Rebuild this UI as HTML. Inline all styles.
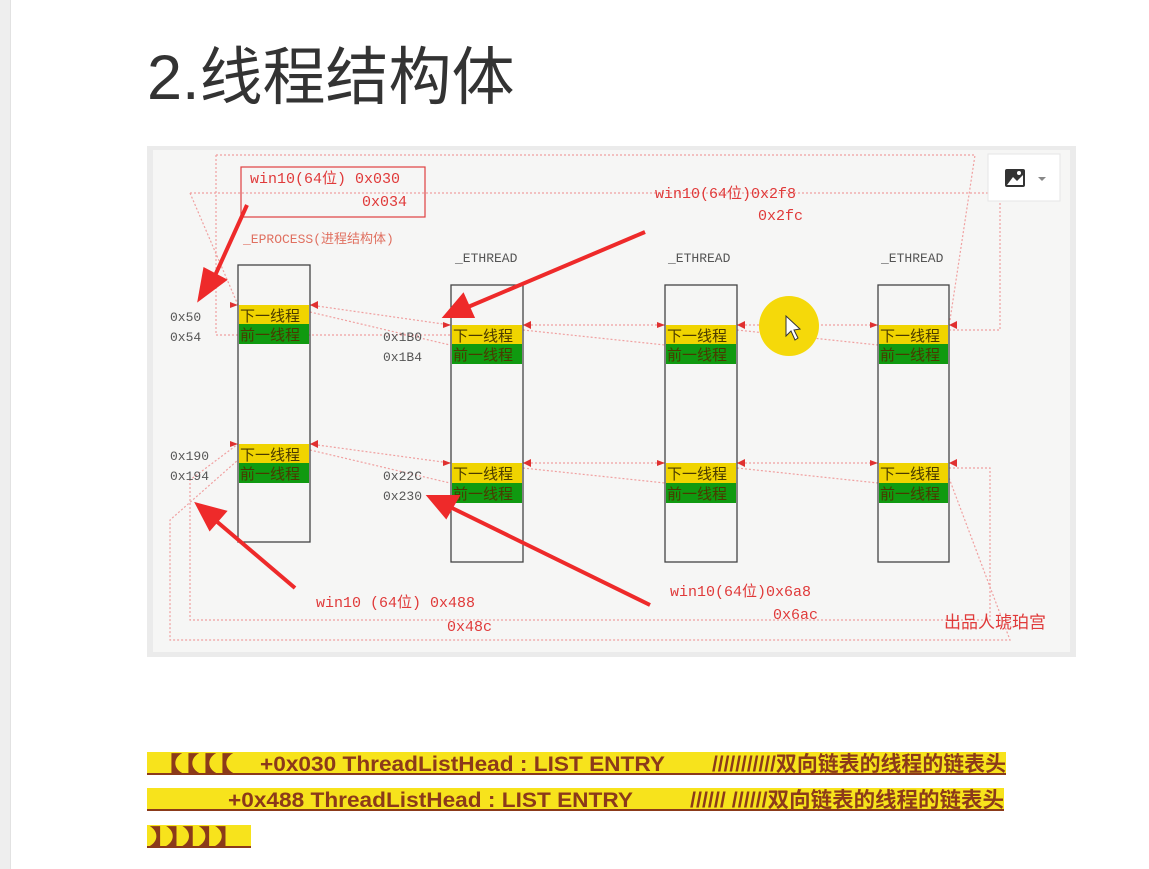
<!DOCTYPE html>
<html><head><meta charset="utf-8"><style>
body{margin:0;width:1149px;height:869px;background:#fff;position:relative;overflow:hidden;font-family:"Liberation Sans","Noto Sans CJK SC",sans-serif}
.strip{position:absolute;left:0;top:0;width:10px;height:869px;background:#eee;border-right:1px solid #e2e2e2}
h1{position:absolute;left:147px;top:38px;margin:0;font-size:63px;font-weight:normal;color:#333;line-height:80px;font-family:"Liberation Sans","Noto Sans CJK SC",sans-serif}
svg text{font-family:"Liberation Mono","Noto Sans CJK SC",monospace}
svg text.b{font-family:"Liberation Sans","Noto Sans CJK SC",sans-serif;font-weight:bold;fill:#8b3a1a;font-size:21px}
</style></head><body>
<div class="strip"></div>
<h1>2.线程结构体</h1>
<svg style="position:absolute;left:0;top:0" width="1149" height="869">
<rect x="147" y="146" width="929" height="511" fill="#ebebeb"/>
<rect x="153" y="150" width="917" height="502" fill="#f6f6f5"/>
<g stroke="#f0a0a0" stroke-width="1.2" stroke-dasharray="2,2" fill="none">
<polyline points="216,155 975,155 950,320"/>
<polyline points="190,193 1000,193 1000,330 950,330"/>
<polyline points="216,155 216,335 450,335"/>
<polyline points="190,193 238,305"/>
<line x1="310" y1="305" x2="450" y2="325"/>
<line x1="310" y1="312" x2="450" y2="345"/>
<line x1="523" y1="325" x2="665" y2="325"/>
<line x1="523" y1="330" x2="665" y2="345"/>
<line x1="737" y1="325" x2="878" y2="325"/>
<line x1="737" y1="330" x2="878" y2="345"/>
<line x1="310" y1="444" x2="450" y2="463"/>
<line x1="310" y1="450" x2="450" y2="483"/>
<line x1="523" y1="463" x2="665" y2="463"/>
<line x1="523" y1="468" x2="665" y2="483"/>
<line x1="737" y1="463" x2="878" y2="463"/>
<line x1="737" y1="468" x2="878" y2="483"/>
<polyline points="949,468 990,468 990,620 190,620 190,480 238,444"/>
<polyline points="949,478 1010,640 170,640 170,520 238,460"/>
</g>
<circle cx="789" cy="326" r="30" fill="#f5d90a"/>
<polygon points="786,316 786,336 791,331 795,340 798,338 794,330 800,329" fill="#fff" stroke="#333" stroke-width="1"/>
<g fill="#e03030">
<polygon points="230,302 238,305 230,308"/><polygon points="443,322 451,325 443,328"/><polygon points="657,322 665,325 657,328"/><polygon points="870,322 878,325 870,328"/>
<polygon points="318,301 310,305 318,309"/><polygon points="531,321 523,325 531,329"/><polygon points="745,321 737,325 745,329"/><polygon points="957,321 949,325 957,329"/>
<polygon points="230,441 238,444 230,447"/><polygon points="443,460 451,463 443,466"/><polygon points="657,460 665,463 657,466"/><polygon points="870,460 878,463 870,466"/>
<polygon points="318,440 310,444 318,448"/><polygon points="531,459 523,463 531,467"/><polygon points="745,459 737,463 745,467"/><polygon points="957,459 949,463 957,467"/>
</g>
<g stroke="#444" stroke-width="1.3" fill="none">
<rect x="238" y="265" width="72" height="277"/><rect x="451" y="285" width="72" height="277"/><rect x="665" y="285" width="72" height="277"/><rect x="878" y="285" width="71" height="277"/>
</g>
<g font-size="15" fill="#4a3a00">
<rect x="239" y="305" width="70" height="19" fill="#f0d400"/><rect x="239" y="324" width="70" height="20" fill="#109a10"/>
<rect x="239" y="444" width="70" height="19" fill="#f0d400"/><rect x="239" y="463" width="70" height="20" fill="#109a10"/>
<rect x="452" y="325" width="70" height="19" fill="#f0d400"/><rect x="452" y="344" width="70" height="20" fill="#109a10"/>
<rect x="452" y="463" width="70" height="20" fill="#f0d400"/><rect x="452" y="483" width="70" height="20" fill="#109a10"/>
<rect x="666" y="325" width="70" height="19" fill="#f0d400"/><rect x="666" y="344" width="70" height="20" fill="#109a10"/>
<rect x="666" y="463" width="70" height="20" fill="#f0d400"/><rect x="666" y="483" width="70" height="20" fill="#109a10"/>
<rect x="879" y="325" width="69" height="19" fill="#f0d400"/><rect x="879" y="344" width="69" height="20" fill="#109a10"/>
<rect x="879" y="463" width="69" height="20" fill="#f0d400"/><rect x="879" y="483" width="69" height="20" fill="#109a10"/>
<text x="240" y="321">下一线程</text><text x="240" y="340">前一线程</text>
<text x="240" y="460">下一线程</text><text x="240" y="479">前一线程</text>
<text x="453" y="341">下一线程</text><text x="453" y="360">前一线程</text>
<text x="453" y="479">下一线程</text><text x="453" y="499">前一线程</text>
<text x="667" y="341">下一线程</text><text x="667" y="360">前一线程</text>
<text x="667" y="479">下一线程</text><text x="667" y="499">前一线程</text>
<text x="880" y="341">下一线程</text><text x="880" y="360">前一线程</text>
<text x="880" y="479">下一线程</text><text x="880" y="499">前一线程</text>
</g>
<g font-size="13" fill="#555">
<text x="170" y="321">0x50</text><text x="170" y="341">0x54</text>
<text x="170" y="460">0x190</text><text x="170" y="480">0x194</text>
<text x="383" y="341">0x1B0</text><text x="383" y="361">0x1B4</text>
<text x="383" y="480">0x22C</text><text x="383" y="500">0x230</text>
<text x="455" y="262">_ETHREAD</text><text x="668" y="262">_ETHREAD</text><text x="881" y="262">_ETHREAD</text>
</g>
<text x="243" y="243" font-size="13" fill="#e07060">_EPROCESS(进程结构体)</text>
<rect x="241" y="167" width="184" height="50" fill="none" stroke="#e04040" stroke-width="1.2"/>
<g font-size="15" fill="#e03a3a">
<text x="250" y="183">win10(64位) 0x030</text><text x="362" y="206">0x034</text>
<text x="655" y="198">win10(64位)0x2f8</text><text x="758" y="220">0x2fc</text>
<text x="316" y="607">win10 (64位) 0x488</text><text x="447" y="631">0x48c</text>
<text x="670" y="596">win10(64位)0x6a8</text><text x="773" y="619">0x6ac</text>
<text x="944" y="628" font-family="Liberation Sans,Noto Sans CJK SC,sans-serif" font-size="17">出品人琥珀宫</text>
</g>
<g stroke="#ee2a2a" stroke-width="4" fill="#ee2a2a">
<line x1="247" y1="205" x2="213" y2="280"/><polygon points="200,298 205,270 224,280"/>
<line x1="645" y1="232" x2="468" y2="307"/><polygon points="446,316 463,296 472,316"/>
<line x1="295" y1="588" x2="215" y2="520"/><polygon points="198,505 224,512 210,528"/>
<line x1="650" y1="605" x2="450" y2="507"/><polygon points="430,497 457,497 446,516"/>
</g>
<rect x="988" y="154" width="72" height="47" fill="#fff" stroke="#e6e6e6"/>
<rect x="1005" y="169" width="20" height="18" fill="#333" rx="2"/>
<polygon points="1007,185 1013,177 1017,181 1023,175 1023,185" fill="#fff"/>
<circle cx="1019" cy="173" r="2" fill="#fff"/>
<polygon points="1038,177 1046,177 1042,181" fill="#888"/>

<rect x="147" y="752" width="859" height="21" fill="#f7e31c"/><rect x="147" y="773" width="859" height="2" fill="#8b3a1a"/>
<rect x="147" y="788" width="857" height="21" fill="#f7e31c"/><rect x="147" y="809" width="857" height="2" fill="#8b3a1a"/>
<rect x="147" y="825" width="104" height="21" fill="#f7e31c"/><rect x="147" y="846" width="104" height="2" fill="#8b3a1a"/>
<text class="b" x="149" y="771" textLength="85" lengthAdjust="spacingAndGlyphs">【【【【</text>
<text class="b" x="260" y="771" textLength="405" lengthAdjust="spacingAndGlyphs">+0x030 ThreadListHead   :   LIST  ENTRY</text>
<text class="b" x="712" y="771" textLength="294" lengthAdjust="spacingAndGlyphs">///////////双向链表的线程的链表头</text>
<text class="b" x="228" y="807" textLength="405" lengthAdjust="spacingAndGlyphs">+0x488 ThreadListHead   :   LIST  ENTRY</text>
<text class="b" x="690" y="807" textLength="314" lengthAdjust="spacingAndGlyphs">//////  //////双向链表的线程的链表头</text>
<text class="b" x="149" y="844" textLength="98" lengthAdjust="spacingAndGlyphs">】】】】】</text>
</svg>
</body></html>
